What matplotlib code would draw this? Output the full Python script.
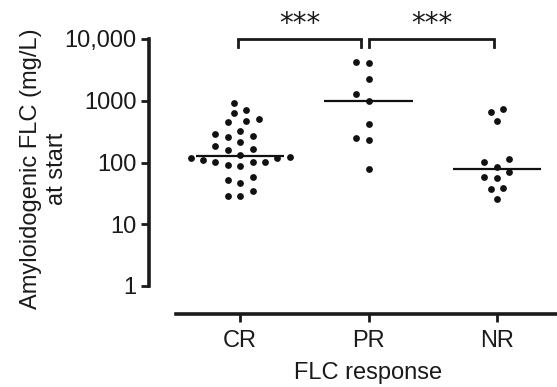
import matplotlib
matplotlib.use('Agg')
import matplotlib.pyplot as plt
import numpy as np

# ---- data ----
groups = ['CR', 'PR', 'NR']
cr_values = [930, 708, 626, 512, 475, 448, 327, 290, 266, 256, 215, 185, 164, 159,
             132, 121, 120, 117, 110, 103, 103, 103, 91, 88, 58, 53, 47, 34, 29, 29]
pr_values = [4195, 4130, 2250, 1272, 1002, 420, 247, 231, 78]
nr_values = [743, 657, 475, 114, 102, 85.5, 69, 58, 56, 38, 37, 26]
y_ticks = [1, 10, 100, 1000, 10000]
y_tick_labels = ['1', '10', '100', '1000', '10,000']
comparisons = [(0, 1, '***'), (1, 2, '***')]
y_label = 'Amyloidogenic FLC (mg/L)\nat start'
x_label = 'FLC response'

FONT = 'Liberation Sans'
FS = 17
plt.rcParams['font.family'] = [FONT, 'DejaVu Sans']

W, H = 557, 387
fig = plt.figure(figsize=(W / 100, H / 100), dpi=100)
ax = fig.add_axes([176 / W, 101 / H, (570 - 176) / W, 247 / H])
ax.set_yscale('log')
ax.set_ylim(1, 10000)
ax.set_xlim(-0.5, 2.57)
ax.patch.set_alpha(0)


def swarm_x(ax, xc, values, min_dist=10.5, step=6.2):
    vals = np.asarray(values, dtype=float)
    px = ax.transData.transform(np.column_stack([np.full(len(vals), xc), vals]))
    cx = px[0, 0]
    order = np.argsort(vals)
    placed = []
    xs = np.zeros(len(vals))
    cands = [0.0]
    for k in range(1, 30):
        cands += [-k * step, k * step]
    for i in order:
        y = px[i, 1]
        for c in cands:
            xp = cx + c
            ok = all((xp - a) ** 2 + (y - b) ** 2 >= min_dist ** 2 for a, b in placed)
            if ok:
                placed.append((xp, y))
                xs[i] = xp
                break
    inv = ax.transData.inverted()
    return inv.transform(np.column_stack([xs, px[:, 1]]))[:, 0]


all_vals = [cr_values, pr_values, nr_values]
for i, vals in enumerate(all_vals):
    xs = swarm_x(ax, i, vals)
    ax.scatter(xs, vals, s=24, color='#111111', linewidths=0, zorder=3, clip_on=False)
    med = np.median(vals)
    ax.hlines(med, i - 0.345, i + 0.345, color='#111111', lw=1.6, zorder=2)

# axes styling
for s in ['top', 'right']:
    ax.spines[s].set_visible(False)
ax.spines['left'].set_position(('outward', 19.4))
ax.spines['bottom'].set_position(('outward', 20.2))
ax.spines['left'].set_bounds(1, 10000)
for s in ['left', 'bottom']:
    ax.spines[s].set_linewidth(2.6)
    ax.spines[s].set_color('#1a1a1a')
    ax.spines[s].set_capstyle('projecting')

ax.set_yticks(y_ticks)
ax.set_yticklabels(y_tick_labels)
ax.yaxis.set_minor_locator(matplotlib.ticker.NullLocator())
ax.set_xticks(range(len(groups)))
ax.set_xticklabels(groups)
ax.tick_params(axis='both', which='major', width=2.0, length=6, color='#1a1a1a',
               labelsize=FS, labelcolor='#1a1a1a')
ax.tick_params(axis='y', pad=3)
ax.tick_params(axis='x', pad=5.5)

fig.text(44 / W, 218 / H, y_label, rotation=90, ha='center', va='center',
         multialignment='center', fontsize=FS, color='#1a1a1a', linespacing=1.25)
fig.text(368 / W, 8 / H, x_label, ha='center', va='baseline', fontsize=FS, color='#1a1a1a')

# significance brackets
for a, b, lab in comparisons:
    x0, x1 = a - 0.016, b - 0.06
    if a == 1:
        x0, x1 = a + 0.0, b - 0.02
    ax.plot([x0, x0, x1, x1], [7500, 10000, 10000, 7500], color='#1a1a1a', lw=2.0,
            clip_on=False, solid_joinstyle='miter')
    ax.text((x0 + x1) / 2, 13000, lab, ha='center', va='baseline', fontsize=20,
            family='DejaVu Sans', color='#1a1a1a', clip_on=False)

fig.savefig('out.png', dpi=100)
